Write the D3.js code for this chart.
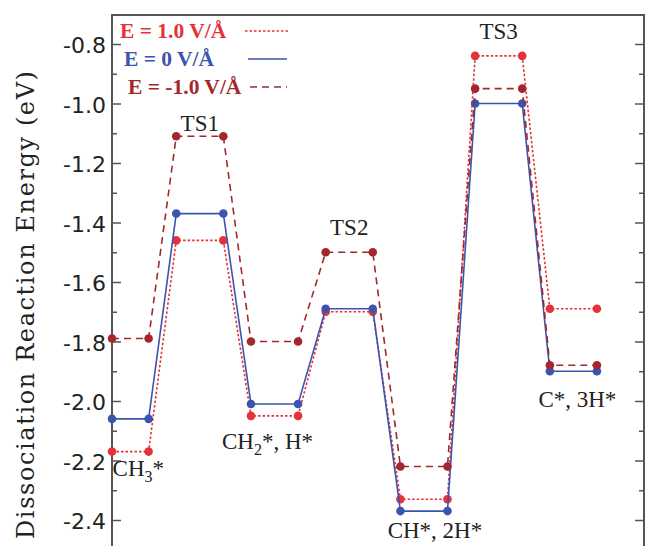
<!DOCTYPE html>
<html>
<head>
  <meta charset="utf-8">
  <title>Dissociation Reaction Energy</title>
  <script src="https://cdn.jsdelivr.net/npm/d3@7"></script>
  <style>
    body { margin: 0; background: #fff; }
    svg { display: block; }
  </style>
</head>
<body>
<script>
// states along the path, with label and where each level starts/ends (x units)
var states = ["CH3*", "TS1", "CH2*, H*", "TS2", "CH*, 2H*", "TS3", "C*, 3H*"];
var levelStart = [0.14, 1, 2, 3, 4, 5, 6];
var levelEnd   = [0.63, 1.63, 2.63, 3.63, 4.63, 5.63, 6.63];

// energies (eV)
var plus1  = [-2.17, -1.46, -2.05, -1.70, -2.33, -0.84, -1.69];
var zero   = [-2.06, -1.37, -2.01, -1.69, -2.37, -1.00, -1.90];
var minus1 = [-1.79, -1.11, -1.80, -1.50, -2.22, -0.95, -1.88];

var yTicks = [-0.8, -1.0, -1.2, -1.4, -1.6, -1.8, -2.0, -2.2, -2.4];

var series = [
  {name: "E = 1.0 V/Å",  values: plus1,  color: "#e5323a", dash: "2.5,2"},
  {name: "E = 0 V/Å",    values: zero,   color: "#3b55ad", dash: null},
  {name: "E = -1.0 V/Å", values: minus1, color: "#a3282d", dash: "7,5"}
];

var breite = 645, hoehe = 546;
var plotLeft = 112, plotRight = 644, plotTop = 15;

var svg = d3.select("body").append("svg")
  .attr("width", breite)
  .attr("height", hoehe);

var x = d3.scaleLinear().domain([0.14, 7.26]).range([plotLeft, plotRight]);
var y = d3.scaleLinear().domain([-0.8, -2.4]).range([44, 520]);

// frame: left, top, right (bottom lies below the picture)
svg.append("path")
  .attr("d", "M" + plotLeft + "," + (hoehe + 20) + "V" + plotTop + "H" + plotRight + "V" + (hoehe + 20))
  .attr("fill", "none")
  .attr("stroke", "#555")
  .attr("stroke-width", 2);

// ticks, major with labels and minor every 0.1
var minor = d3.range(-0.7, -2.61, -0.1).map(function(d) { return +d.toFixed(1); });
var isMajor = function(v) { return yTicks.some(function(t) { return Math.abs(t - v) < 1e-6; }); };

var yAxisL = d3.axisRight(y).tickValues(minor).tickSize(0).tickFormat("");
var yAxisR = d3.axisLeft(y).tickValues(minor).tickSize(0).tickFormat("");
var gl = svg.append("g").attr("transform", "translate(" + plotLeft + ",0)").call(yAxisL);
var gr = svg.append("g").attr("transform", "translate(" + plotRight + ",0)").call(yAxisR);
[gl, gr].forEach(function(g, i) {
  g.select(".domain").remove();
  g.selectAll(".tick line")
    .attr("x2", function(d) { return (isMajor(d) ? 9 : 5) * (i == 0 ? 1 : -1); })
    .attr("stroke", "#555")
    .attr("stroke-width", 1.5);
});

svg.append("g").selectAll("text")
  .data(yTicks)
  .enter().append("text")
  .attr("x", plotLeft - 6)
  .attr("y", function(d) { return y(d) + 9; })
  .attr("text-anchor", "end")
  .style("font-family", "DejaVu Sans")
  .style("font-size", "22px")
  .attr("fill", "#222")
  .text(function(d) { return d.toFixed(1); });

svg.append("text")
  .attr("transform", "translate(34,305) rotate(-90)")
  .attr("text-anchor", "middle")
  .attr("textLength", 468)
  .attr("lengthAdjust", "spacing")
  .style("font-family", "DejaVu Serif")
  .style("font-size", "24px")
  .attr("fill", "#222")
  .text("Dissociation Reaction Energy (eV)");

// energy profiles
var line = d3.line().x(function(d) { return x(d[0]); }).y(function(d) { return y(d[1]); });

series.forEach(function(s) {
  var pts = [];
  s.values.forEach(function(v, i) {
    pts.push([levelStart[i], v]);
    pts.push([levelEnd[i], v]);
  });
  svg.append("path")
    .datum(pts)
    .attr("d", line)
    .attr("fill", "none")
    .attr("stroke", s.color)
    .attr("stroke-width", 1.6)
    .attr("stroke-dasharray", s.dash);
  svg.append("g").selectAll("circle")
    .data(pts)
    .enter().append("circle")
    .attr("cx", function(d) { return x(d[0]); })
    .attr("cy", function(d) { return y(d[1]); })
    .attr("r", 4.3)
    .attr("fill", s.color);
});

// state labels
var lab = svg.append("g")
  .style("font-family", "Liberation Serif")
  .style("font-size", "23px")
  .attr("fill", "#222");

function stateLabel(i, dx, yy, sub, rest) {
  var t = lab.append("text")
    .attr("x", (x(levelStart[i]) + x(levelEnd[i])) / 2 + dx)
    .attr("y", yy)
    .attr("text-anchor", "middle");
  if (sub) {
    t.append("tspan").text(sub[0]);
    t.append("tspan").attr("dy", 6).style("font-size", "16px").text(sub[1]);
    t.append("tspan").attr("dy", -6).text(rest);
  } else {
    t.text(rest);
  }
}
stateLabel(0, 8, 476, ["CH", "3"], "*");
stateLabel(1, 0, 131, null, states[1]);
stateLabel(2, -7, 449, ["CH", "2"], "*, H*");
stateLabel(3, 0, 235, null, states[3]);
stateLabel(4, 11, 538, null, states[4]);
stateLabel(5, 0, 39, null, states[5]);
stateLabel(6, 4, 407, null, states[6]);

// legend
var legY = [38, 66, 94];
var legX = [120, 124, 128];
var legLine = [[245, 290], [248, 287], [250, 287]];
series.forEach(function(s, i) {
  svg.append("text")
    .attr("x", legX[i])
    .attr("y", legY[i])
    .style("font-family", "Liberation Serif")
    .style("font-weight", "bold")
    .style("font-size", "21.5px")
    .attr("fill", s.color)
    .text(s.name);
  svg.append("line")
    .attr("x1", legLine[i][0])
    .attr("x2", legLine[i][1])
    .attr("y1", legY[i] - 7)
    .attr("y2", legY[i] - 7)
    .attr("stroke", s.color)
    .attr("stroke-width", 1.6)
    .attr("stroke-dasharray", s.dash);
});
</script>
</body>
</html>
